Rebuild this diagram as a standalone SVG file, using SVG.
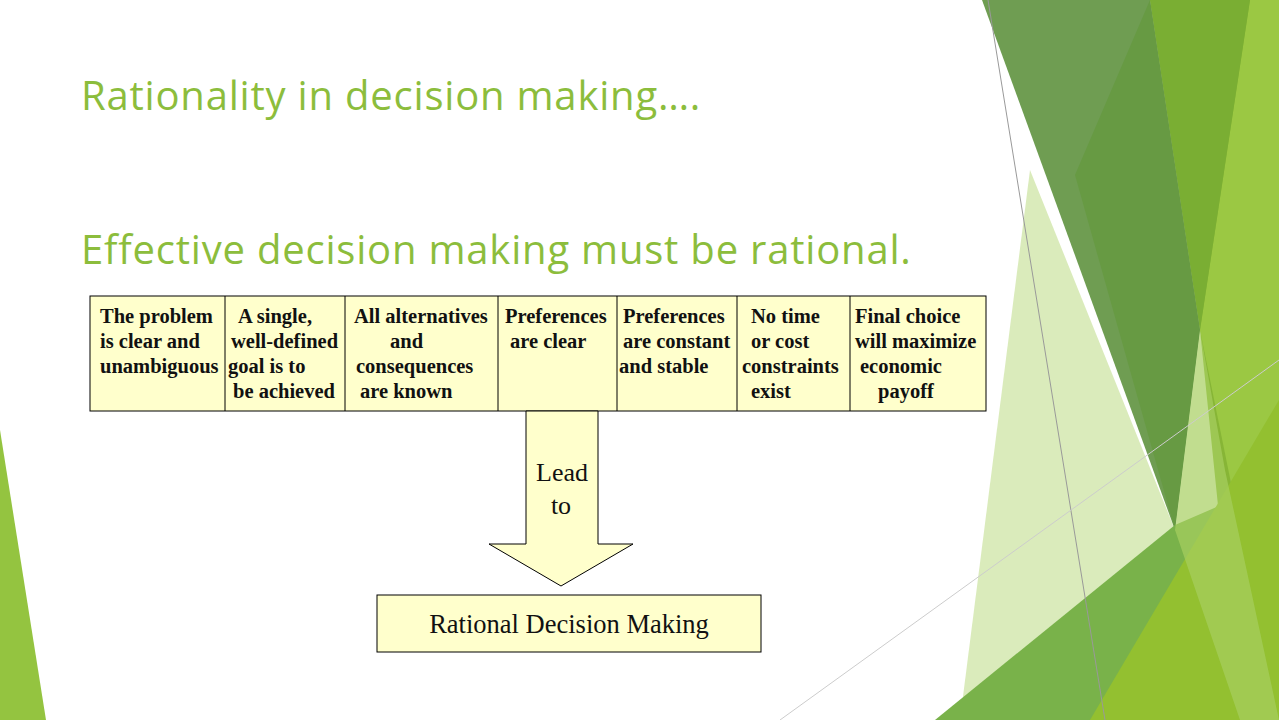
<svg xmlns="http://www.w3.org/2000/svg" width="1279" height="720" viewBox="0 0 1279 720">
<style>
.t{font-family:"Open Sans","Liberation Sans",sans-serif;fill:#8cbd3c;font-size:40px;letter-spacing:0.8px}
.c{font-family:"Liberation Serif",serif;font-weight:bold;font-size:20.5px;fill:#111}
.box{fill:#ffffcc;stroke:#000;stroke-width:1}
</style>
<rect width="1279" height="720" fill="#fff"/>
<g id="decor">
<polygon points="0,430 0,720 46,720" fill="#94c440"/>
<polygon points="1030,170 1175,530 1140,720 960,720" fill="#d6e9b4" opacity="0.9"/>
<polygon points="982,0 1150,0 1200,330 1175,530" fill="#6f9d52"/>
<polygon points="1150,0 1279,0 1279,720 1240,720 1200,330" fill="#87b536"/>
<polygon points="1250,0 1279,0 1279,720 1200,330" fill="#9bc843"/>
<polygon points="1150,0 1250,0 1200,330" fill="#7aae33"/>
<polygon points="1075,175 1150,0 1200,330 1175,530" fill="#679a43"/>
<polygon points="935,720 1175,525 1279,480 1279,720" fill="#79b24a"/>
<polygon points="1090,720 1279,400 1279,720" fill="#93c030"/>
<polygon points="1175,530 1200,330 1225,470 1279,720 1240,720" fill="#a6cf60" opacity="0.7"/>
<line x1="988" y1="0" x2="1105" y2="720" stroke="#999" stroke-width="1"/>
<line x1="780" y1="720" x2="1279" y2="360" stroke="#ccc" stroke-width="1"/>
</g>
<text class="t" x="81" y="110">Rationality in decision making….</text>
<text class="t" x="81" y="264">Effective decision making must be rational.</text>
<g id="conditions">
<rect class="box" x="90" y="296" width="896" height="115"/>
<g stroke="#000"><line x1="225" y1="296" x2="225" y2="411"/><line x1="345" y1="296" x2="345" y2="411"/><line x1="498" y1="296" x2="498" y2="411"/><line x1="617" y1="296" x2="617" y2="411"/><line x1="737" y1="296" x2="737" y2="411"/><line x1="850" y1="296" x2="850" y2="411"/></g>
<text class="c" xml:space="preserve"><tspan x="100" y="323">The problem</tspan><tspan x="100" y="348">is clear and</tspan><tspan x="100" y="373">unambiguous</tspan></text>
<text class="c" xml:space="preserve"><tspan x="238" y="323">A single,</tspan><tspan x="231" y="348">well-defined</tspan><tspan x="228" y="373">goal is to</tspan><tspan x="233" y="398">be achieved</tspan></text>
<text class="c" xml:space="preserve"><tspan x="354" y="323">All alternatives</tspan><tspan x="390" y="348">and</tspan><tspan x="356" y="373">consequences</tspan><tspan x="360" y="398">are known</tspan></text>
<text class="c" xml:space="preserve"><tspan x="505" y="323">Preferences</tspan><tspan x="510" y="348">are clear</tspan></text>
<text class="c" xml:space="preserve"><tspan x="623" y="323">Preferences</tspan><tspan x="623" y="348">are constant</tspan><tspan x="619" y="373">and stable</tspan></text>
<text class="c" xml:space="preserve"><tspan x="751" y="323">No time</tspan><tspan x="751" y="348">or cost</tspan><tspan x="742" y="373">constraints</tspan><tspan x="751" y="398">exist</tspan></text>
<text class="c" xml:space="preserve"><tspan x="855" y="323">Final choice</tspan><tspan x="855" y="348">will maximize</tspan><tspan x="860" y="373">economic</tspan><tspan x="878" y="398">payoff</tspan></text>
</g>
<g id="connectors">
<polygon points="526,411 598,411 598,544 633,544 561,586 489,544 526,544" fill="#ffffcc" stroke="#000"/>
<text font-family="Liberation Serif,serif" font-size="26" fill="#111" text-anchor="middle"><tspan x="562" y="481">Lead</tspan><tspan x="561" y="514">to</tspan></text>
</g>
<g id="result">
<rect class="box" x="377" y="595" width="384" height="57"/>
<text x="569" y="633" font-family="Liberation Serif,serif" font-size="26.5" fill="#111" text-anchor="middle">Rational Decision Making</text>
</g>
</svg>
